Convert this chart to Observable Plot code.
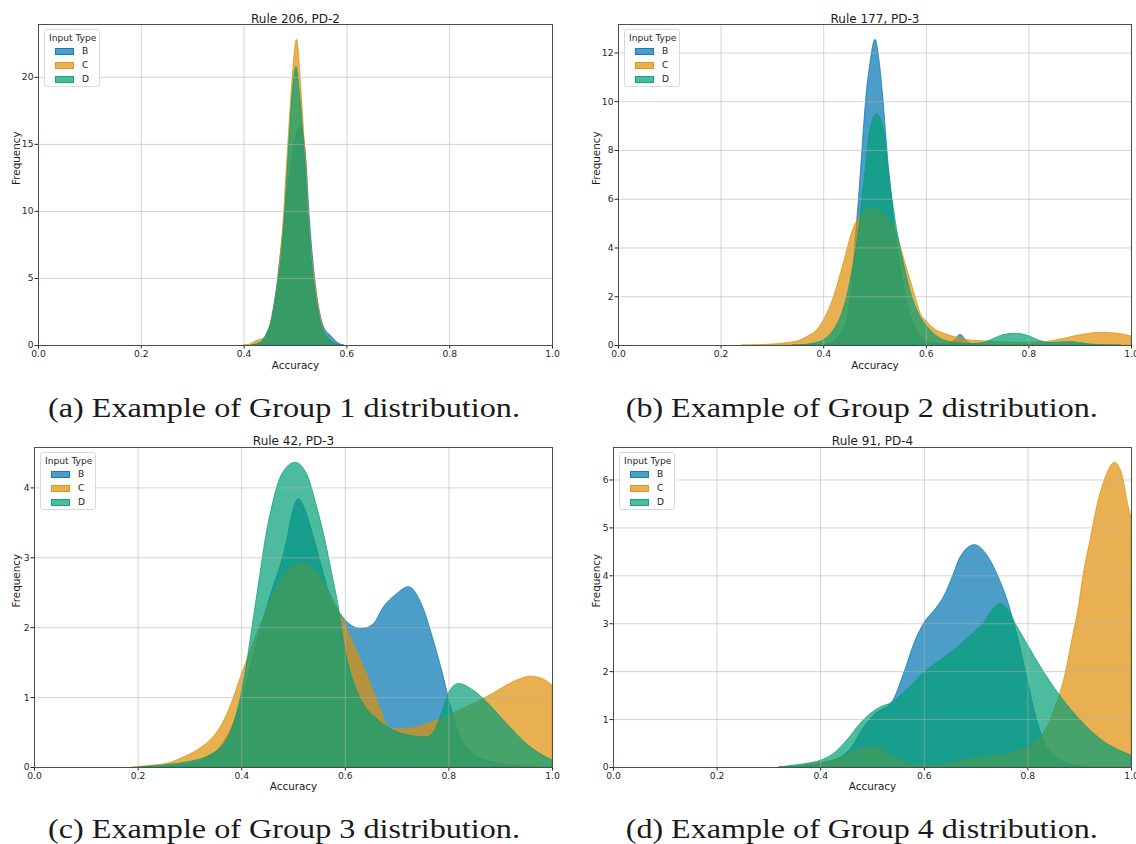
<!DOCTYPE html>
<html>
<head>
<meta charset="utf-8">
<script src="https://cdn.jsdelivr.net/npm/d3@7"></script>
<script src="https://cdn.jsdelivr.net/npm/@observablehq/plot@0.6"></script>
<style>
  body { margin: 0; background: #fff; }
  #page { position: relative; width: 1136px; height: 844px; overflow: hidden; background: #fff;
          font-family: "DejaVu Sans", sans-serif; }
  .panel { position: absolute; }
  .panel svg { display: block; }
  .legend { position: absolute; width: 56px; height: 58px; box-sizing: border-box;
            background: rgba(255,255,255,0.8); border: 1px solid #d9d9d9; border-radius: 3px;
            font-size: 9.1px; color: #262626; }
  .legend .lt { position: absolute; left: 4px; top: 2px; line-height: 12px; white-space: nowrap; }
  .legend .sw { position: absolute; left: 10px; width: 19px; height: 7px; box-sizing: border-box; }
  .legend .lb { position: absolute; left: 37px; line-height: 12px; }
  .caption { position: absolute; font-family: "Liberation Serif", serif; font-size: 27px;
             line-height: 28px; white-space: nowrap; color: #1a1a1a; transform-origin: center center; }
</style>
</head>
<body>
<div id="page"></div>
<script>
// Input types and their fill colours (seaborn "colorblind")
const inputTypes = ["B", "C", "D"];
const typeColors = ["#0173b2", "#de8f05", "#029e73"];

const panelTitles = ["Rule 206, PD-2", "Rule 177, PD-3", "Rule 42, PD-3", "Rule 91, PD-4"];
const panelCaptions = [
  "(a) Example of Group 1 distribution.",
  "(b) Example of Group 2 distribution.",
  "(c) Example of Group 3 distribution.",
  "(d) Example of Group 4 distribution."
];
const xLabel = "Accuracy";
const yLabel = "Frequency";
const legendTitle = "Input Type";

const accuracyTicks = [0, 0.2, 0.4, 0.6, 0.8, 1.0];
const freqTicks206 = [0, 5, 10, 15, 20];
const freqTicks177 = [0, 2, 4, 6, 8, 10, 12];
const freqTicks42 = [0, 1, 2, 3, 4];
const freqTicks91 = [0, 1, 2, 3, 4, 5, 6];

// Density curves, [accuracy, frequency]
const rule206B = [[0.42,0],[0.43,0.1],[0.44,0.4],[0.45,1.3],[0.458,2.8],[0.465,4.6],[0.472,7.0],[0.48,9.6],[0.49,12.8],[0.50,15.3],[0.511,16.25],[0.52,14.4],[0.528,9.4],[0.54,4.4],[0.551,1.9],[0.561,1.0],[0.568,0.75],[0.575,0.45],[0.585,0.12],[0.595,0]];
const rule206C = [[0.40,0],[0.41,0.05],[0.42,0.25],[0.432,0.43],[0.44,0.55],[0.448,1.2],[0.455,2.0],[0.465,4.4],[0.472,6.9],[0.477,9.4],[0.485,14.4],[0.4935,19.4],[0.503,22.8],[0.511,19.4],[0.519,14.4],[0.526,9.4],[0.539,4.4],[0.55,1.9],[0.565,0.4],[0.575,0.1],[0.585,0]];
const rule206D = [[0.415,0],[0.425,0.1],[0.435,0.3],[0.445,0.9],[0.455,1.9],[0.465,4.2],[0.474,6.9],[0.479,9.4],[0.487,14.4],[0.495,19.0],[0.502,20.75],[0.508,19.0],[0.5175,14.4],[0.525,9.4],[0.537,4.4],[0.548,1.9],[0.567,0.4],[0.58,0.1],[0.59,0]];

const rule177B = [[0.38,0],[0.40,0.03],[0.42,0.15],[0.435,0.5],[0.445,1.0],[0.455,2.4],[0.4639,4.73],[0.4691,6.1],[0.4737,7.47],[0.4782,8.84],[0.4834,10.2],[0.4912,11.58],[0.501,12.54],[0.5094,11.58],[0.5159,10.21],[0.5211,8.84],[0.5263,7.47],[0.5328,6.1],[0.5393,4.73],[0.55,3.2],[0.56,2.0],[0.575,0.9],[0.59,0.35],[0.61,0.1],[0.63,0.05],[0.645,0.06],[0.655,0.2],[0.667,0.44],[0.678,0.2],[0.69,0.04],[0.70,0]];
const rule177C = [[0.24,0],[0.27,0.01],[0.30,0.04],[0.33,0.1],[0.355,0.21],[0.372,0.4],[0.387,0.62],[0.407,1.3],[0.42,1.99],[0.439,3.36],[0.4574,4.73],[0.47,5.25],[0.4997,5.62],[0.515,5.45],[0.528,5.1],[0.54,4.73],[0.5595,3.36],[0.579,1.99],[0.589,1.3],[0.60,1.0],[0.618,0.65],[0.64,0.45],[0.66,0.32],[0.68,0.22],[0.70,0.18],[0.72,0.16],[0.74,0.14],[0.76,0.12],[0.78,0.11],[0.80,0.11],[0.82,0.12],[0.842,0.16],[0.86,0.24],[0.875,0.30],[0.89,0.38],[0.907,0.44],[0.925,0.50],[0.946,0.52],[0.965,0.5],[0.985,0.44],[1.0,0.37]];
const rule177D = [[0.34,0],[0.36,0.02],[0.38,0.07],[0.40,0.21],[0.42,0.62],[0.436,1.30],[0.4457,1.99],[0.4587,3.36],[0.4691,4.73],[0.4763,6.10],[0.4834,7.47],[0.4912,8.84],[0.504,9.48],[0.5172,8.84],[0.525,7.47],[0.5335,6.10],[0.5432,4.73],[0.5562,3.36],[0.5724,1.99],[0.5854,1.30],[0.6082,0.62],[0.6342,0.21],[0.66,0.1],[0.69,0.06],[0.71,0.1],[0.73,0.25],[0.75,0.42],[0.774,0.48],[0.80,0.38],[0.82,0.2],[0.84,0.1],[0.86,0.12],[0.88,0.14],[0.90,0.1],[0.92,0.04],[0.95,0.01],[0.98,0]];

const rule42B = [[0.22,0],[0.28,0.03],[0.32,0.08],[0.34,0.16],[0.36,0.3],[0.38,0.55],[0.40,0.95],[0.42,1.5],[0.44,2.05],[0.46,2.55],[0.4717,2.8],[0.4878,3.24],[0.498,3.62],[0.5103,3.84],[0.523,3.68],[0.5412,3.24],[0.5585,2.77],[0.5714,2.45],[0.5907,2.2],[0.61,2.04],[0.6326,1.98],[0.655,2.05],[0.6744,2.29],[0.70,2.48],[0.7226,2.58],[0.7503,2.29],[0.7709,1.81],[0.787,1.38],[0.8031,0.9],[0.8224,0.43],[0.8481,0.19],[0.8867,0.07],[0.93,0.02],[0.97,0]];
const rule42C = [[0.19,0],[0.22,0.02],[0.26,0.06],[0.29,0.15],[0.32,0.27],[0.34,0.39],[0.36,0.58],[0.378,0.86],[0.40,1.32],[0.42,1.72],[0.44,2.1],[0.46,2.45],[0.48,2.72],[0.50,2.87],[0.515,2.91],[0.53,2.88],[0.55,2.75],[0.57,2.5],[0.59,2.2],[0.6133,1.81],[0.639,1.38],[0.6647,0.9],[0.6873,0.55],[0.72,0.55],[0.75,0.6],[0.78,0.68],[0.81,0.78],[0.84,0.88],[0.87,0.99],[0.90,1.12],[0.93,1.24],[0.9575,1.30],[0.98,1.27],[1.0,1.17]];
const rule42D = [[0.20,0],[0.25,0.03],[0.30,0.08],[0.333,0.15],[0.372,0.39],[0.394,0.86],[0.4073,1.34],[0.417,1.81],[0.4266,2.29],[0.4363,2.77],[0.4459,3.24],[0.4588,3.72],[0.4782,4.19],[0.504,4.36],[0.5264,4.19],[0.5457,3.72],[0.5618,3.24],[0.5746,2.77],[0.5875,2.29],[0.597,1.81],[0.61,1.38],[0.6358,0.9],[0.66,0.7],[0.6873,0.55],[0.72,0.46],[0.758,0.43],[0.775,0.55],[0.79,0.85],[0.803,1.1],[0.8192,1.195],[0.8477,1.10],[0.8739,0.93],[0.9125,0.62],[0.951,0.33],[0.975,0.2],[1.0,0.1]];

const rule91B = [[0.34,0],[0.38,0.03],[0.40,0.08],[0.4253,0.14],[0.445,0.25],[0.4608,0.42],[0.4801,0.77],[0.5058,1.11],[0.5379,1.35],[0.5605,1.94],[0.583,2.64],[0.5991,2.99],[0.6248,3.34],[0.6377,3.55],[0.657,4.03],[0.6699,4.38],[0.6976,4.64],[0.72,4.45],[0.7407,4.04],[0.7651,3.34],[0.7825,2.64],[0.7973,1.94],[0.8115,1.25],[0.8308,0.56],[0.8564,0.21],[0.8887,0.04],[0.92,0]];
const rule91C = [[0.32,0],[0.35,0.02],[0.38,0.06],[0.40,0.1],[0.4253,0.15],[0.45,0.25],[0.475,0.37],[0.4961,0.42],[0.515,0.38],[0.5412,0.2],[0.5798,0.07],[0.61,0.04],[0.65,0.08],[0.6892,0.17],[0.72,0.21],[0.7471,0.25],[0.7857,0.35],[0.8179,0.56],[0.8404,0.9],[0.8533,1.25],[0.8726,1.94],[0.8855,2.64],[0.8983,3.34],[0.908,4.04],[0.9208,4.73],[0.9337,5.43],[0.953,6.12],[0.9678,6.36],[0.9819,6.12],[0.9949,5.43],[1.0,5.21]];
const rule91D = [[0.32,0],[0.3417,0.03],[0.37,0.07],[0.40,0.14],[0.4253,0.28],[0.4511,0.56],[0.4768,0.91],[0.4961,1.11],[0.5154,1.25],[0.5379,1.35],[0.5669,1.62],[0.6023,2.0],[0.63,2.22],[0.655,2.42],[0.68,2.65],[0.70,2.85],[0.7149,3.0],[0.73,3.25],[0.7471,3.41],[0.762,3.28],[0.7761,3.0],[0.7954,2.64],[0.834,1.94],[0.90,1.0],[0.944,0.56],[1.0,0.25]];

// Layout of the four subplots on the page
const panels = [
  {series: [rule206B, rule206C, rule206D], yTicks: freqTicks206, left: 0,   top: 0,   width: 560, height: 380, ml: 38, mr: 8, mt: 24, mb: 35, ylabDx: -22, titleDy: -10.5, xlabDy: 23, capX: 284, capY: 408},
  {series: [rule177B, rule177C, rule177D], yTicks: freqTicks177, left: 580, top: 0,   width: 556, height: 380, ml: 38, mr: 5, mt: 24, mb: 35, ylabDx: -22, titleDy: -10.5, xlabDy: 23, capX: 862, capY: 408},
  {series: [rule42B,  rule42C,  rule42D],  yTicks: freqTicks42,  left: 0,   top: 422, width: 560, height: 380, ml: 34, mr: 8, mt: 25, mb: 35, ylabDx: -18, titleDy: -11.5, xlabDy: 22, capX: 284, capY: 829},
  {series: [rule91B,  rule91C,  rule91D],  yTicks: freqTicks91,  left: 580, top: 422, width: 556, height: 380, ml: 33, mr: 5, mt: 25, mb: 35, ylabDx: -17, titleDy: -11.5, xlabDy: 22, capX: 862, capY: 829}
];

const page = document.getElementById("page");
const gridStyle = {stroke: "#b0b0b0", strokeOpacity: 0.55, strokeWidth: 1};

panels.forEach((p, k) => {
  const yMax = d3.max(p.series.flat(), d => d[1]) * 1.05;
  const chart = Plot.plot({
    width: p.width, height: p.height,
    marginLeft: p.ml, marginRight: p.mr, marginTop: p.mt, marginBottom: p.mb,
    style: {fontFamily: "DejaVu Sans, sans-serif", fontSize: "9.2px", color: "#262626", background: "transparent"},
    x: {domain: [0, 1]},
    y: {domain: [0, yMax]},
    marks: [
      ...p.series.map((s, i) => Plot.areaY(s, {
        x: d => d[0], y: d => d[1], curve: "monotone-x", clip: true,
        fill: typeColors[i], fillOpacity: 0.7,
        stroke: typeColors[i], strokeOpacity: 0.7, strokeWidth: 1
      })),
      Plot.gridX(accuracyTicks, gridStyle),
      Plot.gridY(p.yTicks, gridStyle),
      Plot.axisX(accuracyTicks, {tickFormat: d3.format(".1f"), tickSize: 3.5, tickPadding: 1.5, label: null}),
      Plot.axisY(p.yTicks, {tickFormat: d3.format("d"), tickSize: 3.5, tickPadding: 1.5, label: null}),
      Plot.frame({stroke: "#4d4d4d", strokeWidth: 1}),
      Plot.text([panelTitles[k]], {text: d => d, frameAnchor: "top", dy: p.titleDy, fontSize: 12, fill: "#1a1a1a"}),
      Plot.text([xLabel], {text: d => d, frameAnchor: "bottom", dy: p.xlabDy, fontSize: 10.4, fill: "#1a1a1a"}),
      Plot.text([yLabel], {text: d => d, frameAnchor: "left", dx: p.ylabDx, rotate: -90, fontSize: 10.4, fill: "#1a1a1a"})
    ]
  });
  const holder = document.createElement("div");
  holder.className = "panel";
  holder.style.left = p.left + "px";
  holder.style.top = p.top + "px";
  holder.appendChild(chart);
  page.appendChild(holder);

  // legend box in the upper-left corner of the axes
  const lg = document.createElement("div");
  lg.className = "legend";
  lg.style.left = (p.left + p.ml + 6) + "px";
  lg.style.top = (p.top + p.mt + 5) + "px";
  const lt = document.createElement("div");
  lt.className = "lt";
  lt.textContent = legendTitle;
  lg.appendChild(lt);
  inputTypes.forEach((t, i) => {
    const cy = 21 + i * 14;
    const sw = document.createElement("div");
    sw.className = "sw";
    sw.style.top = (cy - 3.5) + "px";
    sw.style.background = d3.color(typeColors[i]).copy({opacity: 0.7}).formatRgb();
    sw.style.border = "1px solid " + d3.color(typeColors[i]).copy({opacity: 0.75}).formatRgb();
    const lb = document.createElement("div");
    lb.className = "lb";
    lb.style.top = (cy - 6) + "px";
    lb.textContent = t;
    lg.appendChild(sw);
    lg.appendChild(lb);
  });
  page.appendChild(lg);

  // caption below the subplot
  const cap = document.createElement("div");
  cap.className = "caption";
  cap.textContent = panelCaptions[k];
  page.appendChild(cap);
  const w = cap.getBoundingClientRect().width;
  cap.style.left = (p.capX - w / 2) + "px";
  cap.style.top = (p.capY - 14) + "px";
  cap.style.transform = `scaleX(${472 / w})`;
});
</script>
</body>
</html>
